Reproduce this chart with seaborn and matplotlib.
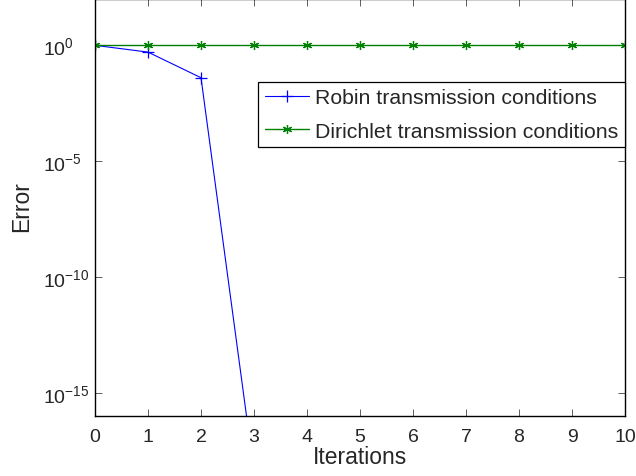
import numpy as np
import pandas as pd
import matplotlib
matplotlib.use("Agg")
import matplotlib.pyplot as plt
import seaborn as sns

iterations = [0, 1, 2, 3, 4, 5, 6, 7, 8, 9, 10]
robin_error = [1.0, 0.51, 0.04, 4e-19, 3e-19, 3e-19, 3e-19, 3e-19, 3e-19, 3e-19, 3e-19]
dirichlet_error = [1.0] * 11
labels = ["Robin transmission conditions", "Dirichlet transmission conditions"]

sns.set_theme(style="ticks")
plt.rcParams['font.family'] = ['Liberation Sans', 'DejaVu Sans']
plt.rcParams['mathtext.fontset'] = 'custom'
plt.rcParams['mathtext.rm'] = 'Liberation Sans'
plt.rcParams['mathtext.it'] = 'Liberation Sans'

fig = plt.figure(figsize=(6.36, 4.77), dpi=100)
ax = fig.add_axes([95/636, 60/477, 530/636, 417/477])

blue = (0, 0, 1)
green = (0, 0.5, 0)
asterisk = (6, 2, 0)
sns.lineplot(x=iterations, y=robin_error, ax=ax, color=blue, lw=0.8,
             marker='+', markersize=9, markeredgewidth=0.9, markeredgecolor=blue,
             label=labels[0])
sns.lineplot(x=iterations, y=dirichlet_error, ax=ax, color=green, lw=1.0,
             marker=asterisk, markersize=6.5, markeredgewidth=0.9, markeredgecolor=green,
             label=labels[1])

ax.set_yscale('log')
ax.set_xlim(0, 10)
ax.set_ylim(1e-16, 1e2)
ax.set_xticks(range(0, 11))
ax.set_yticks([1e-15, 1e-10, 1e-5, 1e0])
ax.set_yticklabels([r'$10^{-15}$', r'$10^{-10}$', r'$10^{-5}$', r'$10^{0}$'])
ax.minorticks_off()
ax.tick_params(axis='both', which='major', direction='in', top=True, right=True,
               length=5, width=0.6, labelsize=14, color='#444444')
ax.tick_params(axis='x', pad=9)
ax.tick_params(axis='y', pad=52 * 72 / 100)
for lab in ax.get_yticklabels():
    lab.set_horizontalalignment('left')
for s in ax.spines.values():
    s.set_linewidth(1.0)
    s.set_color('black')
ax.set_xlabel('Iterations', fontsize=16.5, labelpad=0)
ax.set_ylabel('Error', fontsize=16.5)
ax.yaxis.set_label_coords(22/636, (477 - 207) / 477, transform=fig.transFigure)
ax.xaxis.set_label_coords(360/636, (477 - 458) / 477, transform=fig.transFigure)
ax.xaxis.label.set_verticalalignment('center')
ax.yaxis.label.set_verticalalignment('center')

leg = ax.legend(loc='upper right', bbox_to_anchor=(1.0, 1 - 83/417), fontsize=15.3,
                frameon=True, fancybox=False, edgecolor='black', framealpha=1,
                borderpad=0.3, handlelength=2.1, handletextpad=0.28, labelspacing=0.68,
                borderaxespad=0)
leg.get_frame().set_linewidth(0.9)

fig.savefig('out.png', dpi=100)
